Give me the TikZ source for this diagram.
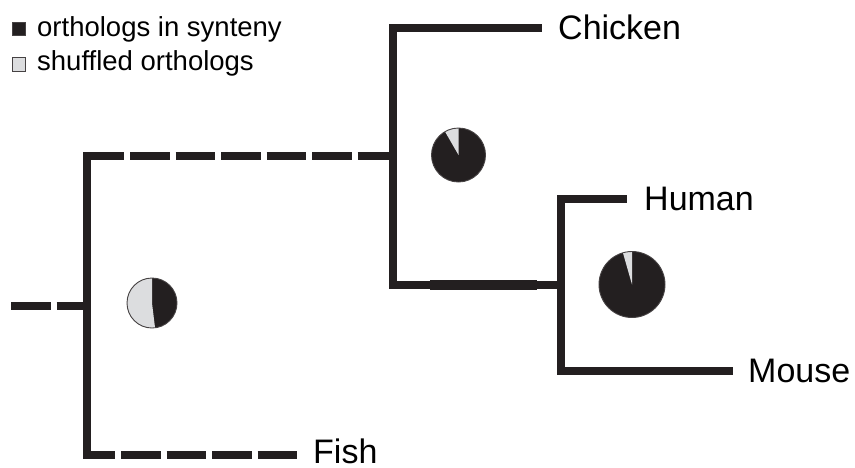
\documentclass[tikz,border=0pt]{standalone}
\usepackage{fontspec}
\setmainfont{Liberation Sans}
\usepackage{tikz}
\usetikzlibrary{positioning}
\definecolor{treeblack}{RGB}{35,31,32}
\definecolor{pielight}{RGB}{220,221,223}
\definecolor{pieedge}{RGB}{70,66,67}

\begin{document}
\begin{tikzpicture}[
  x=1pt, y=1pt,
  branch/.style={line width=8pt, treeblack},
  stem/.style={branch, line cap=rect},
  dashbranch/.style={branch, dash pattern=on 39.5pt off 6pt},
  leaf/.style={font=\fontsize{34}{40}\selectfont, inner sep=0pt, anchor=west},
  keytext/.style={font=\fontsize{27.5}{32}\selectfont, inner sep=0pt, anchor=base west},
  keybox/.style={draw=pieedge, line width=0.8pt, minimum size=13.5pt, inner sep=0pt},
  pieline/.style={draw=pieedge, line width=0.9pt}
]
\useasboundingbox (0,0) rectangle (855,-467);

% legend
\node[keybox, fill=treeblack] (keysyn) at (19,-29) {};
\node[keybox, fill=pielight] (keyshuf) at (19,-64.5) {};
\node[keytext] (keysyntxt) at (37,-36) {orthologs in synteny};
\node[keytext] (keyshuftxt) at (37,-70) {shuffled orthologs};

% tree points
\coordinate (base) at (11,-306);
\coordinate (root) at (87,-306);
\coordinate (roottop) at (87,-156);
\coordinate (rootbot) at (87,-455);
\coordinate (fishend) at (297,-455);
\coordinate (amniote) at (393,-156);
\coordinate (amntop) at (393,-28);
\coordinate (amnbot) at (393,-285);
\coordinate (chickend) at (542,-28);
\coordinate (mammal) at (561,-285);
\coordinate (mamtop) at (561,-199);
\coordinate (mambot) at (561,-371);
\coordinate (humanend) at (627,-199);
\coordinate (mouseend) at (733,-371);

% branches
\draw[dashbranch] (base) -- (root);
\draw[stem] (roottop) -- (rootbot);
\draw[dashbranch, dash phase=2.5pt] (roottop) -- (amniote);
\draw[dashbranch, dash phase=11.5pt] (rootbot) -- (fishend);
\draw[stem] (amntop) -- (amnbot);
\draw[branch] (amntop) -- (chickend);
\draw[branch] (amnbot) -- (mammal);
\draw[branch, line width=10pt] ([xshift=37pt]amnbot) -- ([xshift=-24pt]mammal);
\draw[stem] (mamtop) -- (mambot);
\draw[branch] (mamtop) -- (humanend);
\draw[branch] (mambot) -- (mouseend);

% labels
\node[leaf, right=16pt of chickend, yshift=1pt] (chicken) {Chicken};
\node[leaf, right=17pt of humanend] (human) {Human};
\node[leaf, right=15pt of mouseend] (mouse) {Mouse};
\node[leaf, right=16pt of fishend, yshift=4pt] (fish) {Fish};

% pies
\coordinate (rootpie) at (152,-303);
\coordinate (amnpie) at (458.5,-155);
\coordinate (mampie) at (632,-284.5);
\fill[treeblack] (rootpie) circle[radius=25];
\fill[pielight] (rootpie) -- ++(90:25) arc[start angle=90, end angle=277, radius=25] -- cycle;
\draw[pieline] (rootpie) circle[radius=25];
\fill[treeblack] (amnpie) circle[radius=27];
\fill[pielight] (amnpie) -- ++(90:27) arc[start angle=90, end angle=120, radius=27] -- cycle;
\draw[pieline] (amnpie) circle[radius=27];
\fill[treeblack] (mampie) circle[radius=33];
\fill[pielight] (mampie) -- ++(90:33) arc[start angle=90, end angle=106, radius=33] -- cycle;
\draw[pieline] (mampie) circle[radius=33];
\end{tikzpicture}
\end{document}
